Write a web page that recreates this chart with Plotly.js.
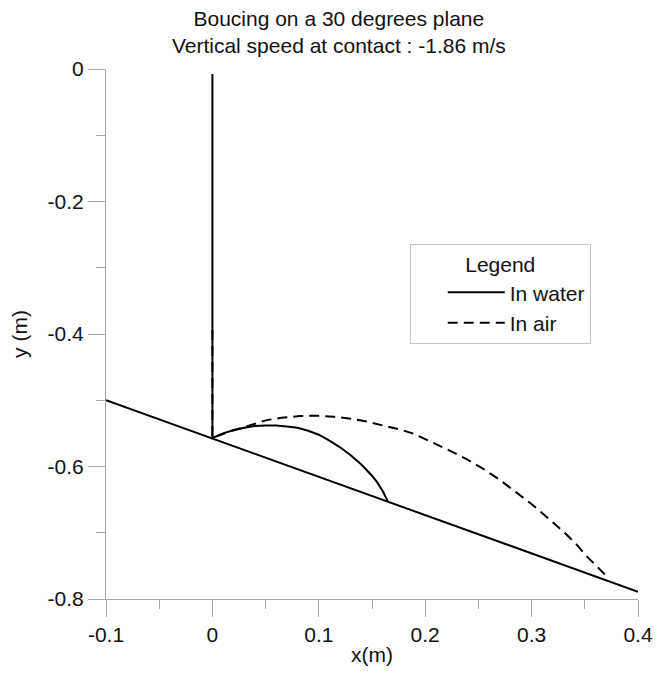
<!DOCTYPE html>
<html>
<head>
<meta charset="utf-8">
<script src="https://cdn.plot.ly/plotly-3.0.1.min.js"></script>
<style>html,body{margin:0;padding:0;background:#fff;}#chart{width:667px;height:675px;}</style>
</head>
<body>
<div id="chart"></div>
<script>
// Inclined plane (30 degrees)
var planeX = [-0.1, 0.4];
var planeY = [-0.5, -0.789];

// In water trajectory
var waterX = [0, 0, 0.01, 0.02, 0.03, 0.04, 0.05, 0.06, 0.07, 0.08, 0.09, 0.10, 0.11, 0.12, 0.13, 0.14, 0.15, 0.155, 0.16, 0.165];
var waterY = [-0.0075, -0.557, -0.550, -0.545, -0.5415, -0.539, -0.538, -0.5381, -0.5395, -0.5415, -0.546, -0.552, -0.561, -0.571, -0.583, -0.597, -0.614, -0.624, -0.637, -0.653];

// In air trajectory
var airX = [0, 0, 0.013, 0.026, 0.04, 0.051, 0.065, 0.082, 0.098, 0.114, 0.13, 0.145, 0.16, 0.176, 0.19, 0.2075, 0.223, 0.239, 0.255, 0.270, 0.285, 0.301, 0.317, 0.333, 0.343, 0.352, 0.361, 0.370];
var airY = [-0.394, -0.557, -0.549, -0.5425, -0.535, -0.530, -0.5265, -0.5238, -0.5233, -0.5248, -0.528, -0.532, -0.538, -0.544, -0.551, -0.564, -0.576, -0.589, -0.604, -0.620, -0.638, -0.658, -0.680, -0.703, -0.719, -0.736, -0.750, -0.765];

// Tick labels
var xTickVals = [-0.1, 0, 0.1, 0.2, 0.3, 0.4];
var xTickText = ["-0.1", "0", "0.1", "0.2", "0.3", "0.4"];
var xMinorVals = [-0.05, 0.05, 0.15, 0.25, 0.35];
var yTickVals = [0, -0.2, -0.4, -0.6, -0.8];
var yTickText = ["0", "-0.2", "-0.4", "-0.6", "-0.8"];
var yMinorVals = [-0.1, -0.3, -0.5, -0.7];

var FONT = "Liberation Sans, Arial, sans-serif";
var AXC = "#a8a8a8";

var traces = [
  {x: planeX, y: planeY, mode: "lines", line: {color: "#000", width: 2}, showlegend: false, hoverinfo: "skip"},
  {x: waterX, y: waterY, mode: "lines", name: "In water", line: {color: "#000", width: 2}},
  {x: airX, y: airY, mode: "lines", name: "In air", line: {color: "#000", width: 2, dash: "10px,6px"}}
];

var axisCommon = {
  showgrid: false, zeroline: false, showline: true, linecolor: AXC, linewidth: 1,
  ticks: "outside", ticklen: 17, tickcolor: AXC, tickwidth: 1,
  tickfont: {family: FONT, size: 21, color: "#111"}, tickmode: "array"
};

var layout = {
  width: 667, height: 675,
  margin: {l: 106, r: 29, t: 69, b: 76},
  paper_bgcolor: "#fff", plot_bgcolor: "#fff",
  font: {family: FONT, size: 21, color: "#111"},
  title: {
    text: "Boucing on a 30 degrees plane<br>Vertical speed at contact : -1.86 m/s",
    font: {family: FONT, size: 21, color: "#111"},
    xref: "container", x: 0.508, xanchor: "center",
    yref: "container", y: 0.962, yanchor: "middle"
  },
  xaxis: Object.assign({}, axisCommon, {
    range: [-0.1, 0.4], tickvals: xTickVals, ticktext: xTickText,
    minor: {tickmode: "array", tickvals: xMinorVals, ticks: "outside", ticklen: 9, tickcolor: AXC, tickwidth: 1, showgrid: false},
    title: {text: "x(m)", font: {family: FONT, size: 21, color: "#111"}, standoff: 2}
  }),
  yaxis: Object.assign({}, axisCommon, {
    range: [-0.8, 0], tickvals: yTickVals, ticktext: yTickText,
    minor: {tickmode: "array", tickvals: yMinorVals, ticks: "outside", ticklen: 9, tickcolor: AXC, tickwidth: 1, showgrid: false},
    title: {text: "y (m)", font: {family: FONT, size: 21, color: "#111"}, standoff: 14}
  }),
  legend: {
    x: 0.571, y: 0.67, xanchor: "left", yanchor: "top",
    bgcolor: "#fff", bordercolor: "#c4c4c4", borderwidth: 1,
    font: {family: FONT, size: 21, color: "#111"},
    title: {text: "Legend", side: "top center", font: {family: FONT, size: 21, color: "#111"}},
    itemwidth: 57, indentation: 32, tracegroupgap: 0
  },
  showlegend: true
};

Plotly.newPlot("chart", traces, layout, {displayModeBar: false, staticPlot: true});
</script>
</body>
</html>
